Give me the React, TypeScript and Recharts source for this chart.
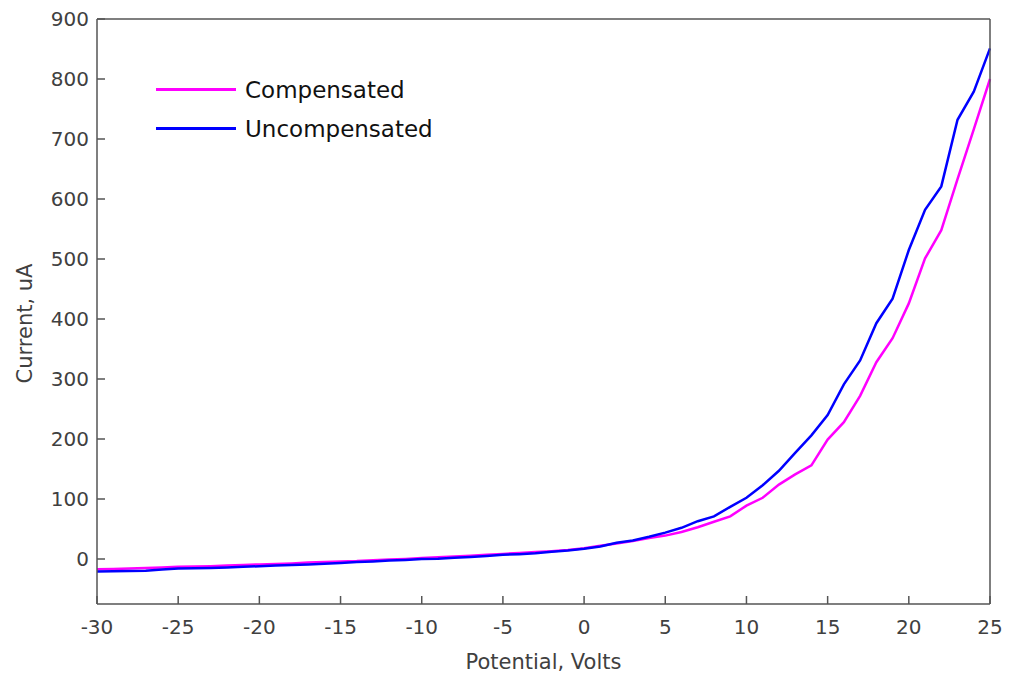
import { LineChart, Line, XAxis, YAxis } from 'recharts';

const voltage = [
  -30, -29, -28, -27, -26, -25, -24, -23, -22, -21, -20, -19, -18, -17, -16, -15, -14, -13, -12, -11,
  -10, -9, -8, -7, -6, -5, -4, -3, -2, -1, 0, 1, 2, 3, 4, 5, 6, 7, 8, 9,
  10, 11, 12, 13, 14, 15, 16, 17, 18, 19, 20, 21, 22, 23, 24, 25,
];

const compensated = [
  -17, -16.5, -16, -15, -14, -13, -12.5, -12, -11, -10, -9, -8.5, -7.5, -6, -5, -4, -3.5, -2, -1, 0,
  1.5, 3, 4, 5.5, 7, 8.5, 10, 11.5, 13, 15, 18, 22, 26, 30, 35, 39, 45, 53, 62, 71,
  89, 102, 124, 141, 156, 199, 228, 272, 328, 368, 426, 501, 548, 633, 716, 800,
];

const uncompensated = [
  -21, -20.5, -20, -19.5, -17.5, -16, -15.5, -15, -14, -13, -12, -11, -10, -9, -8, -6.5, -5, -4, -2.5, -1.5,
  0, 0.5, 2, 3.5, 5, 7, 8, 9.5, 12, 14, 17, 21, 27, 31, 37, 44, 52, 63, 71, 87,
  102, 123, 147, 177, 206, 240, 291, 331, 393, 434, 515, 582, 621, 732, 779, 851,
];

const xTicks = [-30, -25, -20, -15, -10, -5, 0, 5, 10, 15, 20, 25];
const yTicks = [0, 100, 200, 300, 400, 500, 600, 700, 800, 900];

const seriesInfo = [
  { key: 'comp', name: 'Compensated', color: '#ff00ff' },
  { key: 'uncomp', name: 'Uncompensated', color: '#0000ff' },
];

const data = voltage.map((v, i) => ({
  v,
  comp: compensated[i],
  uncomp: uncompensated[i],
}));

const FONT = '"DejaVu Sans", sans-serif';
const TEXT = '#404040';
const AXIS = '#555555';

function YLabel({ viewBox }: { viewBox?: { x: number; y: number; width: number; height: number } }) {
  if (!viewBox) return null;
  const cx = viewBox.x + 25;
  const cy = viewBox.y + viewBox.height / 2 + 12;
  return (
    <text
      x={cx}
      y={cy}
      transform={`rotate(-90, ${cx}, ${cy})`}
      textAnchor="middle"
      dominantBaseline="central"
      fontSize={21}
      fill={TEXT}
      fontFamily={FONT}
    >
      Current, uA
    </text>
  );
}

export default function App() {
  return (
    <div style={{ position: 'absolute', left: 0, top: 0, width: 1010, height: 675, background: '#fff' }}>
      <LineChart width={1010} height={675} data={data} margin={{ top: 18, right: 19, bottom: 0, left: 0 }}>
        <XAxis
          dataKey="v"
          type="number"
          domain={[-30, 25]}
          ticks={xTicks}
          height={71}
          stroke={AXIS}
          strokeWidth={1.5}
          tickSize={-8}
          tickMargin={24}
          tick={{ fontSize: 20, fill: TEXT, fontFamily: FONT }}
          label={{ value: 'Potential, Volts', position: 'insideBottom', offset: 6, fontSize: 21, fill: TEXT, fontFamily: FONT }}
        />
        <XAxis
          xAxisId="top"
          dataKey="v"
          type="number"
          orientation="top"
          domain={[-30, 25]}
          ticks={xTicks}
          height={1}
          stroke={AXIS}
          strokeWidth={1.5}
          tickSize={-8}
          tick={false}
        />
        <YAxis
          type="number"
          domain={[-75, 900]}
          ticks={yTicks}
          width={97}
          stroke={AXIS}
          strokeWidth={1.5}
          tickSize={-8}
          tickMargin={16}
          tick={{ fontSize: 20, fill: TEXT, fontFamily: FONT }}
          label={<YLabel />}
        />
        <YAxis
          yAxisId="right"
          type="number"
          orientation="right"
          domain={[-75, 900]}
          ticks={yTicks}
          width={1}
          stroke={AXIS}
          strokeWidth={1.5}
          tickSize={-8}
          tick={false}
        />
        {seriesInfo.map((s) => (
          <Line
            key={s.key}
            type="linear"
            dataKey={s.key}
            name={s.name}
            stroke={s.color}
            strokeWidth={2.5}
            dot={false}
            isAnimationActive={false}
          />
        ))}
      </LineChart>
      <div style={{ position: 'absolute', left: 156, top: 70, fontFamily: FONT, fontSize: 23, color: '#111' }}>
        {seriesInfo.map((s) => (
          <div key={s.key} style={{ display: 'flex', alignItems: 'center', height: 39 }}>
            <span style={{ display: 'inline-block', width: 80, height: 2.5, background: s.color, marginRight: 9 }} />
            <span>{s.name}</span>
          </div>
        ))}
      </div>
    </div>
  );
}
